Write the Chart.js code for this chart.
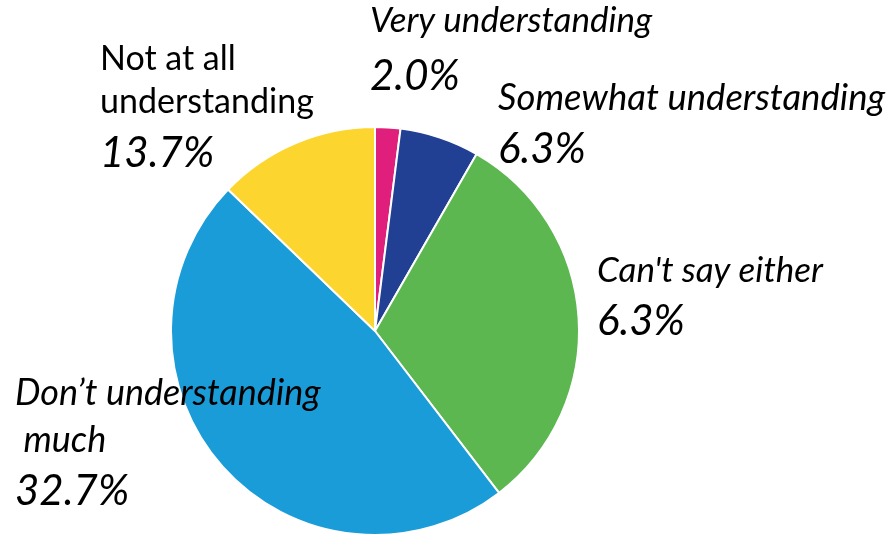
<!DOCTYPE html>
<html lang="en">
<head>
    <meta charset="UTF-8">
    <title>Understanding pie</title>
    <script src="https://cdn.jsdelivr.net/npm/chart.js"></script>
    <style>
        html, body { margin: 0; padding: 0; background: #fff; overflow: hidden; }
        .chart-container { position: relative; width: 894px; height: 536px; }
    </style>
</head>
<body>
<div class="chart-container">
    <canvas id="pieChart" width="894" height="536"></canvas>
</div>

<script>
    // slice order: clockwise from 12 o'clock
    const categories = ["Very understanding", "Somewhat understanding", "Can't say either", "Don\u2019t understanding much", "Not at all understanding"];
    // slice sizes as drawn in the picture (%)
    const shares = [2.0, 6.3, 31.3, 47.6, 12.8];
    // percentages as printed next to each slice
    const printedPct = ["2.0%", "6.3%", "6.3%", "32.7%", "13.7%"];
    // how the category names are broken over lines
    const nameLines = [
        ["Very understanding"],
        ["Somewhat understanding"],
        ["Can't say either"],
        ["Don\u2019t understanding", " much"],
        ["Not at all", "understanding"]
    ];

    const sliceColors = ["#E01E7B", "#213F93", "#5CB750", "#1A9CD8", "#FCD62F"];

    // label placement: left x, baseline of first name line, line step, baseline of pct
    const labelLayout = [
        { x: 370, y: 32,  step: 0,  py: 90,  size: 35, italic: true },
        { x: 498, y: 110, step: 0,  py: 163, size: 36.5, italic: true },
        { x: 597, y: 282, step: 0,  py: 335, size: 35, italic: true },
        { x: 15,  y: 405, step: 47, py: 505, size: 36, italic: true },
        { x: 100, y: 70,  step: 43, py: 167, size: 34, italic: false }
    ];

    const outsideLabels = {
        id: "outsideLabels",
        afterDraw(chart) {
            const ctx = chart.ctx;
            ctx.save();
            ctx.fillStyle = "#000";
            ctx.textBaseline = "alphabetic";
            ctx.textAlign = "left";
            labelLayout.forEach((lay, i) => {
                ctx.font = (lay.italic ? "italic " : "") + lay.size + "px Lato";
                nameLines[i].forEach((line, j) => {
                    ctx.fillText(line, lay.x, lay.y + j * lay.step);
                });
                ctx.font = "italic 42px Lato";
                ctx.fillText(printedPct[i], lay.x, lay.py);
            });
            ctx.restore();
        }
    };

    new Chart(document.getElementById("pieChart"), {
        type: "pie",
        data: {
            labels: categories,
            datasets: [{
                data: shares,
                backgroundColor: sliceColors,
                borderColor: "#ffffff",
                borderWidth: 2
            }]
        },
        options: {
            responsive: false,
            animation: false,
            layout: { padding: { left: 170, right: 314, top: 126, bottom: 0 } },
            plugins: {
                legend: { display: false },
                tooltip: { enabled: false }
            }
        },
        plugins: [outsideLabels]
    });
</script>
</body>
</html>
